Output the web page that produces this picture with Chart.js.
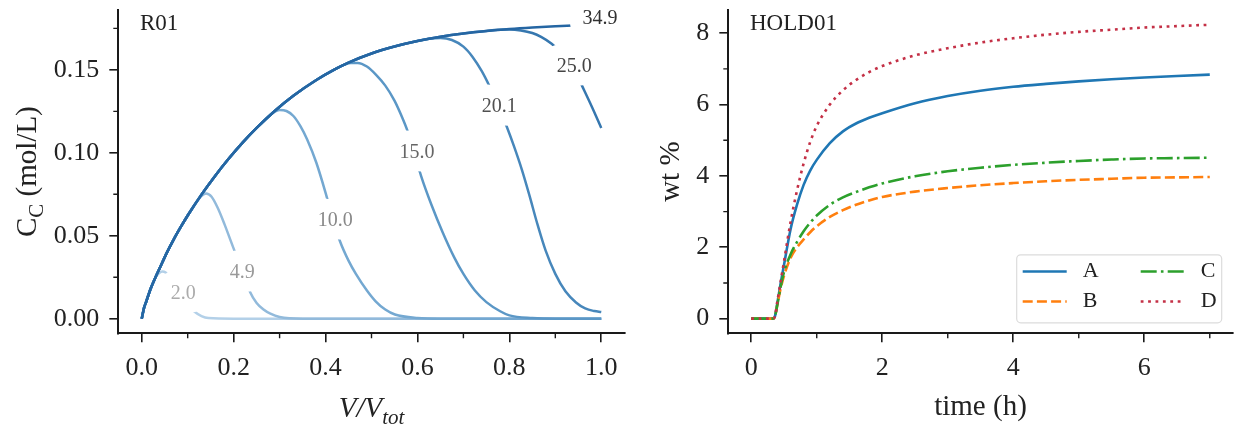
<!DOCTYPE html>
<html>
<head>
<meta charset="utf-8">
<title>R01 / HOLD01</title>
<script src="https://cdn.jsdelivr.net/npm/chart.js@4.4.1/dist/chart.umd.min.js"></script>
<style>
  html, body { margin: 0; padding: 0; background: #fff; }
  #wrap { position: relative; width: 1244px; height: 430px; overflow: hidden; }
  .panel { position: absolute; top: 0; }
  #left { left: 0; }
  #right { left: 640px; }
</style>
</head>
<body>
<div id="wrap">
  <div class="panel" id="left"><canvas id="chart_r01" width="640" height="430"></canvas></div>
  <div class="panel" id="right"><canvas id="chart_hold01" width="604" height="430"></canvas></div>
</div>
<script>
"use strict";

const FONT = "'Liberation Serif', 'DejaVu Serif', serif";

// ---------- left panel: R01 ----------
const runLabels = ["2.0", "4.9", "10.0", "15.0", "20.1", "25.0", "34.9"];
// rising branch that every run follows before it breaks away
const envX = [0, 0.005, 0.01, 0.02, 0.03, 0.04, 0.055, 0.07, 0.085, 0.1, 0.13, 0.16, 0.19, 0.22, 0.25, 0.29, 0.33, 0.38, 0.42, 0.45, 0.5, 0.55, 0.6, 0.65, 0.7, 0.75, 0.8, 0.85, 0.9, 0.95, 1.0];
const envC = [0, 0.0065, 0.0105, 0.0185, 0.025, 0.031, 0.04, 0.048, 0.0553, 0.0622, 0.0748, 0.0862, 0.0967, 0.1063, 0.115, 0.1254, 0.1344, 0.1439, 0.1503, 0.1544, 0.1599, 0.1641, 0.1674, 0.17, 0.172, 0.1735, 0.1747, 0.1756, 0.1763, 0.1769, 0.1773];
const breakAt = [0.035, 0.11, 0.26, 0.43, 0.61, 0.76, 1.01];
const tailX = [
	[0.038, 0.045, 0.052, 0.06, 0.07, 0.085, 0.1, 0.115, 0.13, 0.145, 0.2, 1.0],
	[0.115, 0.128, 0.14, 0.152, 0.165, 0.18, 0.199, 0.219, 0.236, 0.25, 0.265, 0.28, 0.3, 0.35, 1.0],
	[0.27, 0.285, 0.3, 0.315, 0.33, 0.345, 0.36, 0.38, 0.401, 0.416, 0.431, 0.45, 0.466, 0.49, 0.509, 0.53, 0.551, 0.6, 0.65, 1.0],
	[0.44, 0.455, 0.47, 0.49, 0.51, 0.53, 0.55, 0.565, 0.578, 0.593, 0.608, 0.63, 0.655, 0.68, 0.7, 0.725, 0.75, 0.78, 0.8, 0.85, 0.9, 1.0],
	[0.625, 0.65, 0.675, 0.7, 0.72, 0.74, 0.757, 0.775, 0.794, 0.81, 0.827, 0.844, 0.86, 0.879, 0.9, 0.922, 0.945, 0.965, 0.985, 1.0],
	[0.775, 0.8, 0.825, 0.85, 0.87, 0.892, 0.915, 0.94, 0.958, 0.98, 1.0],
	[],
];
const tailC = [
	[0.0275, 0.0285, 0.0278, 0.0252, 0.0208, 0.014, 0.0082, 0.0042, 0.0016, 0.0004, 0, 0],
	[0.0685, 0.0735, 0.0755, 0.0735, 0.067, 0.057, 0.043, 0.029, 0.016, 0.0095, 0.0055, 0.003, 0.001, 0, 0],
	[0.1203, 0.124, 0.1258, 0.1252, 0.1222, 0.1162, 0.108, 0.094, 0.075, 0.06, 0.047, 0.035, 0.027, 0.017, 0.0105, 0.0055, 0.0025, 0.0004, 0, 0],
	[0.153, 0.1542, 0.1542, 0.152, 0.147, 0.1405, 0.1315, 0.1225, 0.1135, 0.1, 0.086, 0.069, 0.052, 0.037, 0.027, 0.017, 0.01, 0.0045, 0.002, 0.0004, 0, 0],
	[0.1688, 0.1692, 0.168, 0.164, 0.1578, 0.1492, 0.14, 0.129, 0.116, 0.104, 0.09, 0.074, 0.058, 0.041, 0.027, 0.0165, 0.0098, 0.0062, 0.0046, 0.004],
	[0.1742, 0.1744, 0.1738, 0.1722, 0.1697, 0.1657, 0.1597, 0.151, 0.1405, 0.1275, 0.115],
	[],
];
// where each run's value is written on its curve
const labelX = [0.0905, 0.219, 0.421, 0.599, 0.778, 0.941, 0.997];
const labelC = [0.015, 0.028, 0.059, 0.1, 0.128, 0.152, 0.181];
const runColors = ["#b3d0e8", "#92badb", "#74a8d1", "#5b97c6", "#4787bb", "#3677af", "#2566a3"];
const labelColors = ["#ababab", "#999999", "#888888", "#666666", "#505050", "#444444", "#303030"];

const r01XTicks = [0, 0.2, 0.4, 0.6, 0.8, 1.0];
const r01XMinor = [0.1, 0.3, 0.5, 0.7, 0.9];
const r01YTicks = [0, 0.05, 0.1, 0.15];
const r01YMinor = [0.025, 0.075, 0.125, 0.175];

// ---------- right panel: HOLD01 ----------
const holdNames = ["A", "B", "C", "D"];
const timeH = [0, 0.33, 0.36, 0.4, 0.45, 0.5, 0.6, 0.7, 0.8, 0.9, 1.0, 1.2, 1.4, 1.6, 1.8, 2.0, 2.5, 3.0, 3.5, 4.0, 4.5, 5.0, 5.5, 6.0, 6.5, 7.0];
const wtA = [0, 0, 0.05, 0.45, 1.0, 1.5, 2.5, 3.2, 3.75, 4.15, 4.45, 4.92, 5.25, 5.47, 5.63, 5.76, 6.04, 6.24, 6.39, 6.5, 6.58, 6.65, 6.71, 6.76, 6.8, 6.84];
const wtB = [0, 0, 0.05, 0.4, 0.85, 1.2, 1.7, 2.0, 2.22, 2.42, 2.59, 2.85, 3.04, 3.19, 3.31, 3.41, 3.56, 3.66, 3.74, 3.8, 3.85, 3.89, 3.92, 3.95, 3.96, 3.97];
const wtC = [0, 0, 0.05, 0.4, 0.9, 1.3, 1.8, 2.15, 2.45, 2.69, 2.89, 3.19, 3.4, 3.55, 3.68, 3.79, 3.99, 4.13, 4.23, 4.31, 4.37, 4.42, 4.46, 4.49, 4.5, 4.51];
const wtD = [0, 0, 0.05, 0.5, 1.05, 1.6, 2.7, 3.6, 4.35, 4.95, 5.4, 6.0, 6.4, 6.69, 6.91, 7.08, 7.38, 7.58, 7.74, 7.86, 7.96, 8.04, 8.1, 8.16, 8.2, 8.24];
const holdXTicks = [0, 2, 4, 6];
const holdXMinor = [1, 3, 5, 7];
const holdYTicks = [0, 2, 4, 6, 8];
const holdYMinor = [1, 3, 5, 7];

const runPoints = function (i) {
	const pts = [];
	envX.forEach((x, k) => {
		if (x < breakAt[i]) pts.push({ x: x, y: envC[k] });
	});
	tailX[i].forEach((x, k) => pts.push({ x: x, y: tailC[i][k] }));
	return pts;
};

function axis(min, max, majors, digits, size, isX) {
	return {
		type: "linear",
		min: min,
		max: max,
		afterBuildTicks: (scale) => {
			scale.ticks = majors.map((v) => ({ value: v }));
		},
		afterFit: (scale) => {
			if (isX) scale.height = size;
			else scale.width = size;
			scale.paddingTop = scale.paddingBottom = 0;
			scale.paddingLeft = scale.paddingRight = 0;
		},
		grid: {
			drawOnChartArea: false,
			drawTicks: true,
			tickLength: 9,
			color: "#1a1a1a",
			lineWidth: 1.6,
		},
		border: { display: true, color: "#1a1a1a", width: 2 },
		ticks: {
			callback: (v) => Number(v).toFixed(digits),
			color: "#222",
			font: { family: FONT, size: 26 },
			padding: 10,
			maxRotation: 0,
			autoSkip: false,
		},
	};
}

function drawMinorTicks(chart, xMinor, yMinor) {
	const { ctx, chartArea, scales } = chart;
	ctx.save();
	ctx.strokeStyle = "#1a1a1a";
	ctx.lineWidth = 1.4;
	ctx.beginPath();
	xMinor.forEach((v) => {
		const px = scales.x.getPixelForValue(v);
		ctx.moveTo(px, chartArea.bottom);
		ctx.lineTo(px, chartArea.bottom + 5);
	});
	yMinor.forEach((v) => {
		const py = scales.y.getPixelForValue(v);
		ctx.moveTo(chartArea.left, py);
		ctx.lineTo(chartArea.left - 5, py);
	});
	ctx.stroke();
	ctx.restore();
}

// text made of pieces, some of them subscript or italic, centred on 0,0
function drawRich(ctx, parts, size) {
	const fontOf = (p) => `${p.it ? "italic " : ""}${p.sub ? Math.round(size * 0.72) : size}px ${FONT}`;
	let total = 0;
	parts.forEach((p) => {
		ctx.font = fontOf(p);
		p.w = ctx.measureText(p.t).width;
		total += p.w;
	});
	let x = -total / 2;
	ctx.fillStyle = "#222";
	ctx.textAlign = "left";
	ctx.textBaseline = "alphabetic";
	parts.forEach((p) => {
		ctx.font = fontOf(p);
		ctx.fillText(p.t, x, size * 0.33 + (p.sub ? size * 0.25 : 0));
		x += p.w;
	});
}

function decorPlugin(cfg) {
	return {
		id: "decor",
		afterDatasetsDraw(chart) {
			if (cfg.inline) cfg.inline(chart);
		},
		afterDraw(chart) {
			const { ctx, chartArea } = chart;
			drawMinorTicks(chart, cfg.xMinor, cfg.yMinor);

			ctx.save();
			ctx.font = `23px ${FONT}`;
			ctx.fillStyle = "#222";
			ctx.textAlign = "left";
			ctx.textBaseline = "middle";
			ctx.fillText(cfg.tag, chartArea.left + 21.7, chartArea.top + 14);
			ctx.restore();

			ctx.save();
			ctx.translate(cfg.yTitleX, (chartArea.top + chartArea.bottom) / 2);
			ctx.rotate(-Math.PI / 2);
			drawRich(ctx, cfg.yTitle, 29);
			ctx.restore();

			ctx.save();
			ctx.translate((chartArea.left + chartArea.right) / 2, cfg.xTitleY);
			drawRich(ctx, cfg.xTitle, 29);
			ctx.restore();

			if (cfg.legend) cfg.legend(chart);
		},
	};
}

function drawRunLabels(chart) {
	const { ctx, scales } = chart;
	ctx.save();
	ctx.font = `20px ${FONT}`;
	ctx.textAlign = "center";
	ctx.textBaseline = "middle";
	ctx.lineJoin = "round";
	runLabels.forEach((txt, i) => {
		const px = scales.x.getPixelForValue(labelX[i]);
		const py = scales.y.getPixelForValue(labelC[i]);
		ctx.strokeStyle = "#fff";
		ctx.lineWidth = 27;
		ctx.strokeText(txt, px, py);
		ctx.fillStyle = labelColors[i];
		ctx.fillText(txt, px, py);
	});
	ctx.restore();
}

function drawHoldLegend(chart) {
	const { ctx, chartArea } = chart;
	const w = 205;
	const h = 68;
	const left = chartArea.right - 11 - w;
	const top = chartArea.bottom - 10.5 - h;
	ctx.save();
	ctx.beginPath();
	ctx.roundRect(left, top, w, h, 4);
	ctx.fillStyle = "rgba(255,255,255,0.85)";
	ctx.fill();
	ctx.strokeStyle = "#dcdcdc";
	ctx.lineWidth = 1.2;
	ctx.stroke();
	ctx.font = `22px ${FONT}`;
	ctx.textAlign = "left";
	ctx.textBaseline = "middle";
	chart.data.datasets.forEach((ds, i) => {
		const col = Math.floor(i / 2);
		const row = i % 2;
		const x = left + 6 + col * 118;
		const y = top + 16.7 + row * 30;
		ctx.beginPath();
		ctx.setLineDash(ds.borderDash || []);
		ctx.strokeStyle = ds.borderColor;
		ctx.lineWidth = ds.borderWidth;
		ctx.moveTo(x, y);
		ctx.lineTo(x + 44, y);
		ctx.stroke();
		ctx.setLineDash([]);
		ctx.fillStyle = "#222";
		ctx.fillText(ds.label, x + 60, y);
	});
	ctx.restore();
}

const common = {
	responsive: false,
	animation: false,
	events: [],
	plugins: { legend: { display: false }, tooltip: { enabled: false } },
	elements: { point: { radius: 0 }, line: { cubicInterpolationMode: "monotone" } },
};

new Chart(document.getElementById("chart_r01"), {
	type: "line",
	data: {
		datasets: runLabels.map((lab, i) => ({
			label: lab,
			data: runPoints(i),
			borderColor: runColors[i],
			borderWidth: 2.5,
			fill: false,
			order: runLabels.length - 1 - i,
		})),
	},
	options: {
		...common,
		layout: { autoPadding: false, padding: { top: 10, right: 15.3, left: 0, bottom: 0 } },
		scales: {
			x: axis(-0.051, 1.051, r01XTicks, 1, 96.7, true),
			y: axis(-0.0088, 0.1861, r01YTicks, 2, 118.3, false),
		},
	},
	plugins: [
		decorPlugin({
			tag: "R01",
			xMinor: r01XMinor,
			yMinor: r01YMinor,
			yTitleX: 26,
			xTitleY: 407,
			yTitle: [{ t: "C" }, { t: "C", sub: true }, { t: " (mol/L)" }],
			xTitle: [{ t: "V/V", it: true }, { t: "tot", it: true, sub: true }],
			inline: drawRunLabels,
		}),
	],
});

const holdSeries = [wtA, wtB, wtC, wtD];
const holdColors = ["#1f77b4", "#ff7f0e", "#2ca02c", "#c43046"];
const holdDash = [[], [10, 4.2], [16, 4.2, 2.6, 4.2], [2.8, 4.6]];

new Chart(document.getElementById("chart_hold01"), {
	type: "line",
	data: {
		datasets: holdNames.map((name, i) => ({
			label: name,
			data: timeH.map((t, k) => ({ x: t, y: holdSeries[i][k] })),
			borderColor: holdColors[i],
			borderDash: holdDash[i],
			borderWidth: 2.6,
			fill: false,
			order: holdNames.length - 1 - i,
		})),
	},
	options: {
		...common,
		layout: { autoPadding: false, padding: { top: 10, right: 11.3, left: 0, bottom: 0 } },
		scales: {
			x: axis(-0.35, 7.35, holdXTicks, 0, 96.7, true),
			y: axis(-0.412, 8.652, holdYTicks, 0, 88.3, false),
		},
	},
	plugins: [
		decorPlugin({
			tag: "HOLD01",
			xMinor: holdXMinor,
			yMinor: holdYMinor,
			yTitleX: 29,
			xTitleY: 405,
			yTitle: [{ t: "wt %" }],
			xTitle: [{ t: "time (h)" }],
			legend: drawHoldLegend,
		}),
	],
});
</script>
</body>
</html>
